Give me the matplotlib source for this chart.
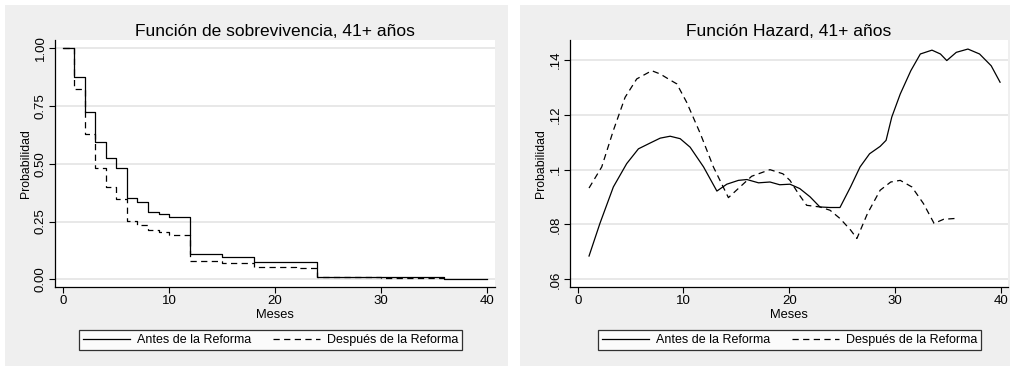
import matplotlib
matplotlib.use('Agg')
import matplotlib.pyplot as plt
from matplotlib.patches import Rectangle

plt.rcParams['font.family'] = ['Liberation Sans', 'DejaVu Sans']

# Kaplan-Meier survival (step functions)
km_t_antes = [0, 1, 2, 3, 4, 5, 6, 7, 8, 9, 10, 11, 12, 15, 18, 20, 24, 28, 30, 36, 40]
km_s_antes = [1.0, 0.874, 0.723, 0.593, 0.524, 0.483, 0.354, 0.333, 0.293, 0.281,
              0.271, 0.268, 0.108, 0.098, 0.076, 0.074, 0.011, 0.010, 0.009, 0.0, 0.0]
km_t_despues = [0, 1, 2, 3, 4, 5, 6, 7, 8, 9, 10, 12, 15, 18, 20, 22, 24, 30, 36]
km_s_despues = [1.0, 0.822, 0.629, 0.48, 0.40, 0.349, 0.254, 0.235, 0.214, 0.203,
                0.19, 0.081, 0.071, 0.055, 0.052, 0.05, 0.009, 0.008, 0.008]

# smoothed hazard
hz_t_antes = [1.07, 2.1, 3.37, 4.63, 5.74, 6.84, 7.8, 8.74, 9.69, 10.63, 11.9, 13.16,
              14.1, 15.2, 16.0, 17.1, 18.18, 19.1, 20.07, 21.0, 21.97, 22.9, 23.86,
              24.8, 25.8, 26.7, 27.6, 28.6, 29.16, 29.7, 30.5, 31.5, 32.4, 33.5,
              34.3, 34.9, 35.8, 36.9, 38.0, 39.1, 39.94]
hz_v_antes = [0.0685, 0.0804, 0.0937, 0.1022, 0.1076, 0.1097, 0.1115, 0.1122, 0.1113,
              0.1082, 0.101, 0.0922, 0.0947, 0.0961, 0.0964, 0.0952, 0.0955, 0.0945,
              0.0947, 0.0931, 0.0901, 0.0864, 0.0862, 0.0862, 0.0937, 0.101, 0.1058,
              0.1085, 0.1107, 0.1192, 0.1276, 0.1361, 0.1422, 0.1436, 0.1422, 0.1398,
              0.1428, 0.144, 0.1422, 0.1379, 0.1319]
hz_t_despues = [1.07, 2.27, 3.37, 4.48, 5.58, 7.0, 7.8, 8.74, 9.37, 10.3, 11.6, 12.83,
                14.25, 15.35, 16.45, 18.18, 19.4, 20.07, 20.86, 21.65, 22.9, 23.86,
                24.8, 25.8, 26.4, 27.4, 28.6, 29.6, 30.5, 31.6, 32.7, 33.7, 34.6, 35.7]
hz_v_despues = [0.0933, 0.101, 0.1143, 0.1264, 0.1331, 0.1361, 0.1349, 0.1327, 0.1313,
                0.1246, 0.1131, 0.101, 0.0898, 0.0937, 0.0976, 0.1, 0.0985, 0.0961,
                0.0913, 0.087, 0.0864, 0.0852, 0.0822, 0.078, 0.0749, 0.084, 0.0925,
                0.0955, 0.0961, 0.0937, 0.0876, 0.0804, 0.0819, 0.0822]

W, H = 1010, 369
fig = plt.figure(figsize=(W / 100, H / 100), dpi=100, facecolor='white')

bg = '#efefef'
fig.patches.append(Rectangle((5 / W, 3 / H), 503 / W, 361 / H, transform=fig.transFigure,
                             facecolor=bg, edgecolor='none', zorder=-10))
fig.patches.append(Rectangle((520 / W, 3 / H), 490 / W, 361 / H, transform=fig.transFigure,
                             facecolor=bg, edgecolor='none', zorder=-10))


def px_axes(x0, x1, y0, y1):
    return fig.add_axes([x0 / W, 1 - y1 / H, (x1 - x0) / W, (y1 - y0) / H])


def style(ax, title):
    ax.set_facecolor('white')
    for s in ['top', 'right']:
        ax.spines[s].set_visible(False)
    for s in ['left', 'bottom']:
        ax.spines[s].set_linewidth(0.9)
    ax.tick_params(direction='out', length=4, width=0.8, labelsize=9.5, pad=2)
    ax.grid(axis='y', color='#e6e6e6', linewidth=1.3)
    ax.set_axisbelow(True)
    ax.set_title(title, fontsize=12.5, pad=3)
    ax.set_xlabel('Meses', fontsize=9.3, labelpad=1)
    ax.set_ylabel('Probabilidad', fontsize=8.8, labelpad=2)
    ax.set_xticks([0, 10, 20, 30, 40])
    for lab in ax.get_yticklabels():
        lab.set_rotation(90)
        lab.set_va('center')


def legend(ax, cx):
    leg = ax.legend(ncol=2, loc='center', bbox_to_anchor=(cx / W, 1 - 340 / H),
                    bbox_transform=fig.transFigure, fontsize=9, frameon=True,
                    fancybox=False, edgecolor='black', handlelength=3.8,
                    columnspacing=1.7, borderpad=0.3, handletextpad=0.55,
                    borderaxespad=0)
    leg.get_frame().set_linewidth(0.9)


dash = (0, (5, 3.5))

# left: survival
ax1 = px_axes(55, 495, 40, 287)
ax1.step(km_t_antes, km_s_antes, where='post', color='black', lw=0.9,
         label='Antes de la Reforma')
ax1.step(km_t_despues, km_s_despues, where='post', color='black', lw=0.9,
         linestyle=dash, label='Después de la Reforma')
ax1.set_xlim(-0.79, 40.78)
ax1.set_ylim(-0.033, 1.036)
ax1.set_yticks([0, 0.25, 0.5, 0.75, 1.0])
ax1.set_yticklabels(['0.00', '0.25', '0.50', '0.75', '1.00'])
style(ax1, 'Función de sobrevivencia, 41+ años')
legend(ax1, 270.5)

# right: hazard
ax2 = px_axes(570, 1008, 40, 287)
ax2.plot(hz_t_antes, hz_v_antes, color='black', lw=0.9, label='Antes de la Reforma')
ax2.plot(hz_t_despues, hz_v_despues, color='black', lw=0.9, linestyle=dash,
         label='Después de la Reforma')
ax2.set_xlim(-0.73, 40.69)
ax2.set_ylim(0.0572, 0.1473)
ax2.set_yticks([0.06, 0.08, 0.10, 0.12, 0.14])
ax2.set_yticklabels(['.06', '.08', '.1', '.12', '.14'])
style(ax2, 'Función Hazard, 41+ años')
legend(ax2, 789.5)

fig.savefig('out.png', dpi=100, facecolor='white')
